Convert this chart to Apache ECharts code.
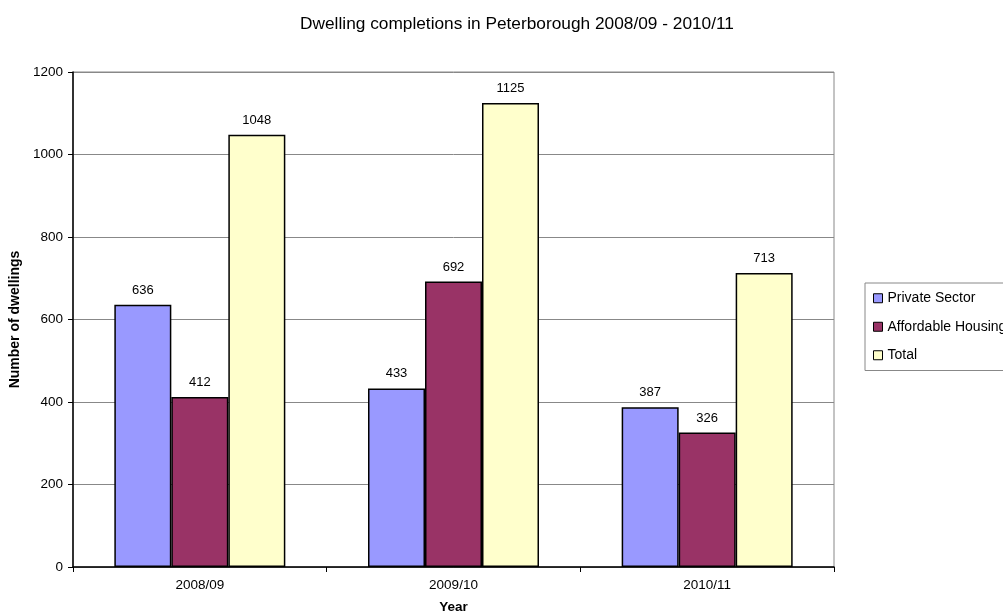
<!DOCTYPE html>
<html>
<head>
<meta charset="utf-8">
<script src="https://cdn.jsdelivr.net/npm/echarts@6/dist/echarts.min.js"></script>
<style>
html,body{margin:0;padding:0;background:#fff;}
#c{width:1003px;height:614px;}
</style>
</head>
<body>
<div id="c"></div>
<script>
const categories = ['2008/09', '2009/10', '2010/11'];
const privateSector = [636, 433, 387];
const affordableHousing = [412, 692, 326];
const total = [1048, 1125, 713];
const seriesNames = ['Private Sector', 'Affordable Housing', 'Total'];
const seriesColors = ['#9999ff', '#993366', '#ffffcc'];

const font = 'Liberation Sans, Arial, sans-serif';
const chart = echarts.init(document.getElementById('c'));
const mk = (name, data, color) => ({
  name: name,
  type: 'bar',
  data: data,
  barWidth: 57,
  barGap: '0%',
  itemStyle: { color: color, borderColor: '#000', borderWidth: 1.5 },
  label: { show: true, position: 'top', distance: 8, color: '#000', fontFamily: font, fontSize: 13 }
});
chart.setOption({
  animation: false,
  backgroundColor: '#fff',
  title: {
    text: 'Dwelling completions in Peterborough 2008/09 - 2010/11',
    left: 512, top: 11, textAlign: 'center',
    textStyle: { fontFamily: font, fontSize: 17.3, fontWeight: 'normal', color: '#000' }
  },
  legend: {
    orient: 'vertical',
    left: 865, top: 283,
    padding: [7, 10, 7, 8],
    itemGap: 12,
    itemWidth: 9, itemHeight: 9,
    icon: 'rect',
    borderColor: '#888', borderWidth: 1,
    textStyle: { fontFamily: font, fontSize: 14, color: '#000', padding: [0, 0, 0, 0], height: 16.5, lineHeight: 16.5 },
    itemStyle: { borderColor: '#000', borderWidth: 1 },
    data: seriesNames
  },
  grid: { left: 73, right: 169, top: 72, bottom: 47, show: true, borderColor: '#888', borderWidth: 1, outerBoundsMode: 'none', containLabel: false },
  xAxis: {
    type: 'category',
    data: categories,
    name: 'Year', nameLocation: 'middle', nameGap: 33,
    nameTextStyle: { fontFamily: font, fontSize: 13.5, fontWeight: 'bold', color: '#000' },
    axisLine: { lineStyle: { color: '#000', width: 1.5 } },
    axisTick: { show: true, length: 5, lineStyle: { color: '#000' } },
    axisLabel: { fontFamily: font, fontSize: 13.5, color: '#000', margin: 11 }
  },
  yAxis: {
    type: 'value',
    min: 0, max: 1200, interval: 200,
    name: 'Number of dwellings', nameLocation: 'middle', nameGap: 43,
    nameTextStyle: { fontFamily: font, fontSize: 14, fontWeight: 'bold', color: '#000' },
    axisLine: { show: true, lineStyle: { color: '#000', width: 1.5 } },
    axisTick: { show: true, length: 5, lineStyle: { color: '#000' } },
    axisLabel: { fontFamily: font, fontSize: 13.5, color: '#000', margin: 10, formatter: v => String(v) },
    splitLine: { lineStyle: { color: '#888', width: 1 } }
  },
  series: [
    mk(seriesNames[0], privateSector, seriesColors[0]),
    mk(seriesNames[1], affordableHousing, seriesColors[1]),
    mk(seriesNames[2], total, seriesColors[2])
  ]
});
</script>
</body>
</html>
